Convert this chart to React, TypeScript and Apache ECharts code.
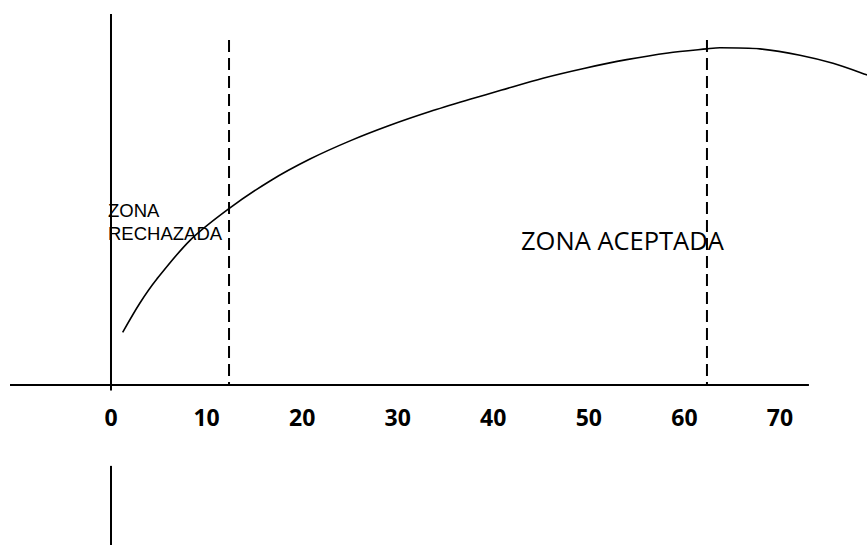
import React, { useEffect, useRef } from "react";
import * as echarts from "echarts";

// Tick labels on the x axis
const tickValues = [0, 10, 20, 30, 40, 50, 60, 70];

// The curve (x, y)
const curveX = [1.22, 3.03, 4.78, 8.27, 12.27, 16.64, 20.82, 25.01, 29.19, 33.38, 37.56, 40.88, 45.2, 49.59, 53.96, 58.28, 62.33, 63.72, 67.9, 72.09, 75.55, 79.07, 80.5];
const curveY = [14.2, 22.1, 28.5, 39.0, 47.4, 55.0, 60.9, 65.8, 70.0, 73.7, 77.0, 79.5, 82.7, 85.4, 87.7, 89.5, 90.6, 90.9, 90.6, 88.9, 86.7, 83.6, 82.2];

// Horizontal axis line extent (x values)
const axisLineX = [-10.568, 73.03];

// Vertical reference lines
const solidLineX = 0;
const solidUpperY = [100, -1.5];
const solidLowerY = [-21.8, -43.2];
const dashedLinesX = [12.35, 62.36];
const dashedY = [93, 0];

const labels = { rejected: "ZONA\nRECHAZADA", accepted: "ZONA ACEPTADA" };

export default function App() {
  const ref = useRef<HTMLDivElement>(null);
  useEffect(() => {
    if (!ref.current) return;
    const chart = echarts.init(ref.current, null, { renderer: "svg" });
    const dashedSeries = dashedLinesX.map((x) => ({
      type: "line",
      data: dashedY.map((y) => [x, y]),
      symbol: "none",
      clip: false,
      lineStyle: { color: "#000", width: 2, type: [12, 6] },
    }));
    chart.setOption({
      animation: false,
      backgroundColor: "#fff",
      grid: {
        left: 10,
        right: 0,
        top: 14,
        bottom: 160,
        containLabel: false,
        outerBoundsMode: "none",
      },
      xAxis: {
        type: "value",
        min: -10.568,
        max: 79.106,
        axisLine: { show: false },
        axisTick: { show: false },
        splitLine: { show: false },
        axisLabel: {
          customValues: tickValues,
          margin: 20,
          color: "#000",
          fontFamily: "Open Sans",
          fontWeight: "bold",
          fontSize: 23,
        },
      },
      yAxis: {
        type: "value",
        min: 0,
        max: 100,
        show: false,
        splitLine: { show: false },
      },
      series: [
        {
          type: "line",
          data: axisLineX.map((x) => [x, 0]),
          symbol: "none",
          clip: false,
          lineStyle: { color: "#000", width: 2 },
        },
        {
          type: "line",
          data: curveX.map((x, i) => [x, curveY[i]]),
          smooth: 0.3,
          symbol: "none",
          clip: false,
          lineStyle: { color: "#000", width: 1.6 },
        },
        {
          type: "line",
          data: solidUpperY.map((y) => [solidLineX, y]),
          symbol: "none",
          clip: false,
          lineStyle: { color: "#000", width: 2 },
        },
        {
          type: "line",
          data: solidLowerY.map((y) => [solidLineX, y]),
          symbol: "none",
          clip: false,
          lineStyle: { color: "#000", width: 2 },
        },
        ...dashedSeries,
      ],
      graphic: [
        {
          type: "text",
          left: 108,
          top: 199,
          style: {
            text: labels.rejected,
            fill: "#000",
            font: "18.5px 'Liberation Sans'",
            lineHeight: 23,
          },
        },
        {
          type: "text",
          left: 521,
          top: 227,
          style: {
            text: labels.accepted,
            fill: "#000",
            font: "25.5px 'Open Sans'",
          },
        },
      ],
    });
    return () => chart.dispose();
  }, []);
  return (
    <div
      ref={ref}
      style={{ position: "fixed", left: 0, top: 0, width: 867, height: 545, background: "#fff" }}
    />
  );
}
